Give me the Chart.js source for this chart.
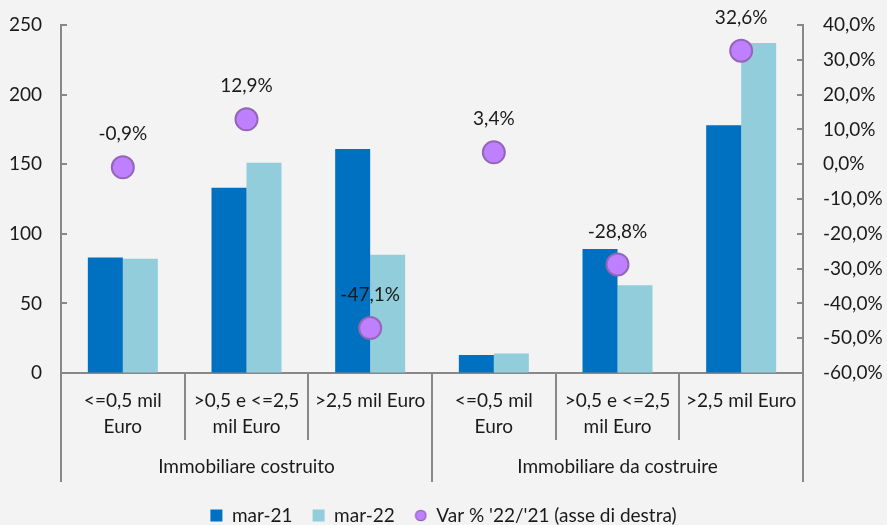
<!DOCTYPE html>
<html>
<head>
<meta charset="utf-8">
<script src="https://cdn.jsdelivr.net/npm/chart.js@4.4.1/dist/chart.umd.min.js"></script>
<style>
  html, body { margin: 0; padding: 0; background: #f3f3f3; }
  #wrap { width: 887px; height: 525px; }
</style>
</head>
<body>
<div id="wrap"><canvas id="chart"></canvas></div>
<script>
// Chart data
const categories = [
    ['<=0,5 mil', 'Euro'], ['>0,5 e <=2,5', 'mil Euro'], ['>2,5 mil Euro'],
    ['<=0,5 mil', 'Euro'], ['>0,5 e <=2,5', 'mil Euro'], ['>2,5 mil Euro']
];
const groupLabels = ['Immobiliare costruito', 'Immobiliare da costruire'];
const groupSizes = [3, 3];
const mar21 = [83, 133, 161, 13, 89, 178];
const mar22 = [82, 151, 85, 14, 63, 237];
const varPct = [-0.9, 12.9, -47.1, 3.4, -28.8, 32.6];
const leftTicks = [0, 50, 100, 150, 200, 250];
const rightTicks = [-60, -50, -40, -30, -20, -10, 0, 10, 20, 30, 40];

const axisColor = '#888888';
const dotFill = '#BF80FF';
const dotBorder = '#9466B8';
const fontSize = 19;
const padTop = 25;
const padBottom = -10;
const fmtPct = v => v.toFixed(1).replace('.', ',') + '%';

Chart.defaults.font.family = 'Lato';
Chart.defaults.font.size = fontSize;
Chart.defaults.color = '#1a1a1a';

// small circle used as the legend marker of the dot series
const legendDot = document.createElement('canvas');
legendDot.width = 13;
legendDot.height = 13;
(function () {
    const c = legendDot.getContext('2d');
    c.beginPath();
    c.arc(6.5, 6.5, 5.2, 0, Math.PI * 2);
    c.fillStyle = dotFill;
    c.fill();
    c.lineWidth = 1.3;
    c.strokeStyle = dotBorder;
    c.stroke();
})();

// y axes: fixed width, and no extra vertical padding from the tick labels
function fitVertical(width) {
    return scale => {
        scale.width = width;
        scale.paddingTop = 0;
        scale.paddingBottom = 0;
    };
}

// Draws inward tick marks, category dividers, group labels and point labels
const extrasPlugin = {
    id: 'extras',
    afterDraw(chart) {
        const ctx = chart.ctx;
        const y = chart.scales.y;
        const y1 = chart.scales.y1;
        const area = chart.chartArea;
        ctx.save();
        ctx.strokeStyle = axisColor;
        ctx.lineWidth = 2;

        // tick marks pointing into the plot
        leftTicks.forEach(v => {
            const py = Math.round(y.getPixelForValue(v));
            ctx.beginPath(); ctx.moveTo(area.left, py); ctx.lineTo(area.left + 6, py); ctx.stroke();
        });
        rightTicks.forEach(v => {
            const py = Math.round(y1.getPixelForValue(v));
            ctx.beginPath(); ctx.moveTo(area.right - 6, py); ctx.lineTo(area.right, py); ctx.stroke();
        });

        // dividers below the x axis
        const catW = (area.right - area.left) / categories.length;
        const groupEdges = [0];
        groupSizes.forEach(n => groupEdges.push(groupEdges[groupEdges.length - 1] + n));
        for (let i = 0; i <= categories.length; i++) {
            const px = Math.round(area.left + i * catW);
            const len = groupEdges.includes(i) ? 109 : 67;
            ctx.beginPath(); ctx.moveTo(px, area.bottom); ctx.lineTo(px, area.bottom + len); ctx.stroke();
        }

        // group labels
        ctx.fillStyle = '#1a1a1a';
        ctx.font = fontSize + 'px Lato';
        ctx.textAlign = 'center';
        ctx.textBaseline = 'middle';
        groupLabels.forEach((lbl, g) => {
            const cx = area.left + (groupEdges[g] + groupEdges[g + 1]) / 2 * catW;
            ctx.fillText(lbl, cx, area.bottom + 94);
        });

        // value labels above the dots
        const meta = chart.getDatasetMeta(2);
        meta.data.forEach((pt, i) => {
            ctx.fillText(fmtPct(varPct[i]), pt.x, pt.y - 33);
        });
        ctx.restore();
    }
};

new Chart(document.getElementById('chart'), {
    data: {
        labels: categories,
        datasets: [
            {
                type: 'bar',
                label: 'mar-21',
                data: mar21,
                backgroundColor: '#0070C0',
                yAxisID: 'y',
                order: 2,
                pointStyle: 'rect',
                categoryPercentage: 0.566,
                barPercentage: 1.0
            },
            {
                type: 'bar',
                label: 'mar-22',
                data: mar22,
                backgroundColor: '#92CDDC',
                yAxisID: 'y',
                order: 2,
                pointStyle: 'rect',
                categoryPercentage: 0.566,
                barPercentage: 1.0
            },
            {
                type: 'line',
                label: "Var % '22/'21 (asse di destra)",
                data: varPct,
                yAxisID: 'y1',
                showLine: false,
                order: 0,
                pointStyle: 'circle',
                pointRadius: 11,
                pointHoverRadius: 11,
                pointBorderWidth: 2,
                backgroundColor: dotFill,
                borderColor: dotBorder,
                pointBackgroundColor: dotFill,
                pointBorderColor: dotBorder
            }
        ]
    },
    options: {
        responsive: true,
        maintainAspectRatio: false,
        animation: false,
        layout: { padding: { top: padTop, left: 0, right: 0, bottom: padBottom } },
        plugins: {
            tooltip: { enabled: false },
            legend: {
                position: 'bottom',
                labels: {
                    usePointStyle: true,
                    boxWidth: 12,
                    boxHeight: 12,
                    padding: 20,
                    color: '#1a1a1a',
                    font: { size: fontSize },
                    sort: (a, b) => a.datasetIndex - b.datasetIndex,
                    generateLabels(chart) {
                        const items = Chart.defaults.plugins.legend.labels.generateLabels(chart);
                        items.forEach(it => {
                            if (it.datasetIndex === 2) it.pointStyle = legendDot;
                        });
                        return items;
                    }
                }
            }
        },
        scales: {
            x: {
                offset: true,
                grid: { display: true, drawOnChartArea: false, drawTicks: false },
                border: { display: true, color: axisColor, width: 2 },
                ticks: { padding: 15, maxRotation: 0, autoSkip: false, color: '#1a1a1a', font: { size: fontSize, lineHeight: 1.37 } },
                afterFit(scale) {
                    scale.height = 525 - padBottom - scale.chart.legend.height - 373;
                }
            },
            y: {
                position: 'left',
                min: 0,
                max: 250,
                grid: { display: true, drawOnChartArea: false, drawTicks: false },
                border: { display: true, color: axisColor, width: 2 },
                ticks: { stepSize: 50, padding: 19, color: '#1a1a1a' },
                afterFit: fitVertical(61)
            },
            y1: {
                position: 'right',
                min: -60,
                max: 40,
                grid: { display: true, drawOnChartArea: false, drawTicks: false },
                border: { display: true, color: axisColor, width: 2 },
                ticks: { stepSize: 10, padding: 20, color: '#1a1a1a', callback: v => fmtPct(v) },
                afterFit: fitVertical(84)
            }
        }
    },
    plugins: [extrasPlugin]
});
</script>
</body>
</html>
